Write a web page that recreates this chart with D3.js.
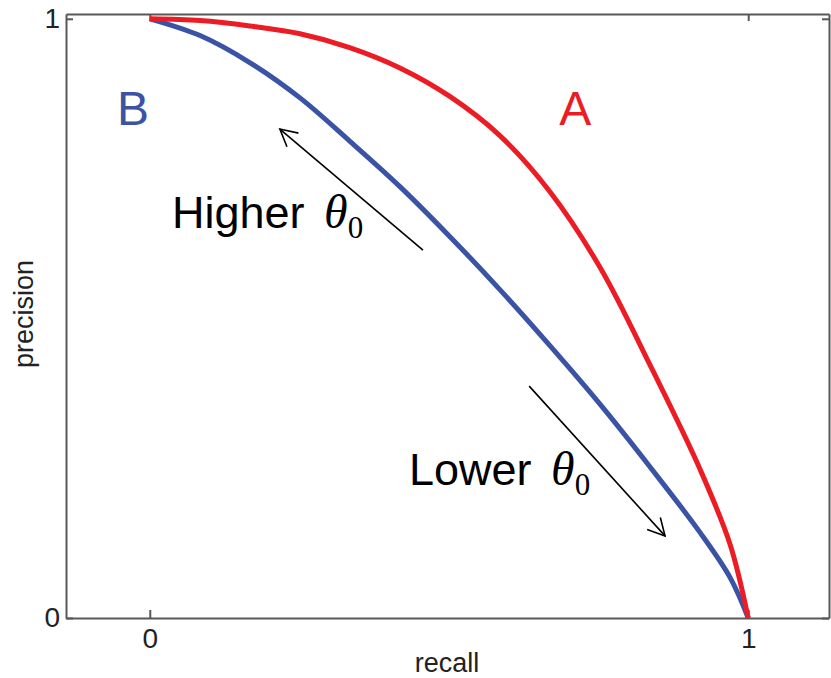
<!DOCTYPE html>
<html>
<head>
<meta charset="utf-8">
<script src="https://cdn.jsdelivr.net/npm/d3@7"></script>
<style>
  body { margin: 0; background: #fff; }
  svg { display: block; }
</style>
</head>
<body>
<div id="chart"></div>
<script>
// recall samples shared by both curves
var recall = [0, 0.084, 0.167, 0.251, 0.334, 0.418, 0.502, 0.585, 0.669, 0.753, 0.836, 0.92, 0.97, 1];
// curve A (red) and curve B (blue)
var precisionA = [1, 0.997, 0.988, 0.975, 0.952, 0.918, 0.87, 0.805, 0.711, 0.584, 0.422, 0.247, 0.122, 0];
var precisionB = [1, 0.972, 0.927, 0.868, 0.796, 0.72, 0.636, 0.548, 0.454, 0.356, 0.252, 0.142, 0.067, 0];

var xTicks = [0, 1];
var yTicks = [0, 1];

var width = 831;
var height = 678;

var x = d3.scaleLinear()
    .domain([-0.14, 1.135])
    .range([66, 829]);

var y = d3.scaleLinear()
    .domain([0, 1.008])
    .range([618, 14]);

var svg = d3.select("#chart")
    .append("svg")
    .attr("width", width)
    .attr("height", height);

var frameColor = "#585858";
var labelFont = "'Liberation Sans', Arial, Helvetica, sans-serif";
var mathFont = "'Liberation Serif', 'Times New Roman', serif";

function styleAxis(g) {
    g.select(".domain").attr("stroke", frameColor).attr("stroke-width", 2);
    g.selectAll(".tick line").attr("stroke", frameColor).attr("stroke-width", 2);
    g.selectAll(".tick text")
        .attr("fill", "#222")
        .style("font-family", labelFont)
        .style("font-size", "28px");
}

svg.append("g")
    .attr("transform", `translate(0, ${y(0)})`)
    .call(d3.axisBottom(x).tickValues(xTicks).tickFormat(d3.format("d"))
        .tickSizeInner(-8).tickSizeOuter(0).tickPadding(10))
    .call(styleAxis);

svg.append("g")
    .attr("transform", `translate(0, ${y.range()[1]})`)
    .call(d3.axisTop(x).tickValues(xTicks).tickFormat("")
        .tickSizeInner(-7).tickSizeOuter(0))
    .call(styleAxis);

svg.append("g")
    .attr("transform", `translate(${x.range()[0]}, 0)`)
    .call(d3.axisLeft(y).tickValues(yTicks).tickFormat(d3.format("d"))
        .tickSizeInner(-7).tickSizeOuter(0).tickPadding(6))
    .call(styleAxis);

svg.append("g")
    .attr("transform", `translate(${x.range()[1]}, 0)`)
    .call(d3.axisRight(y).tickValues(yTicks).tickFormat("")
        .tickSizeInner(-7).tickSizeOuter(0))
    .call(styleAxis);

// axis titles
svg.append("text")
    .attr("x", 447)
    .attr("y", 672)
    .attr("text-anchor", "middle")
    .attr("fill", "#222")
    .style("font-family", labelFont)
    .style("font-size", "27px")
    .text("recall");

svg.append("text")
    .attr("transform", "translate(33, 314) rotate(-90)")
    .attr("text-anchor", "middle")
    .attr("fill", "#222")
    .style("font-family", labelFont)
    .style("font-size", "27px")
    .text("precision");

var line = d3.line()
    .x(d => x(d[0]))
    .y(d => y(d[1]))
    .curve(d3.curveCatmullRom.alpha(0.5));

var blue = "#3a53a4";
var red = "#ec1c24";

svg.append("path")
    .datum(d3.zip(recall, precisionB))
    .attr("fill", "none")
    .attr("stroke", blue)
    .attr("stroke-width", 5)
    .attr("d", line);

svg.append("path")
    .datum(d3.zip(recall, precisionA))
    .attr("fill", "none")
    .attr("stroke", red)
    .attr("stroke-width", 5)
    .attr("d", line);

// curve names
svg.append("text")
    .attr("x", x(-0.028))
    .attr("y", y(0.823))
    .attr("text-anchor", "middle")
    .attr("fill", blue)
    .style("font-family", labelFont)
    .style("font-size", "48px")
    .text("B");

svg.append("text")
    .attr("x", x(0.711))
    .attr("y", y(0.823))
    .attr("text-anchor", "middle")
    .attr("fill", red)
    .style("font-family", labelFont)
    .style("font-size", "48px")
    .text("A");

// arrows
svg.append("defs").append("marker")
    .attr("id", "head")
    .attr("markerUnits", "userSpaceOnUse")
    .attr("viewBox", "-20 -12 24 24")
    .attr("refX", 0)
    .attr("refY", 0)
    .attr("markerWidth", 24)
    .attr("markerHeight", 24)
    .attr("orient", "auto")
    .append("path")
    .attr("d", "M-16.8,-8.9L0,0L-16.8,8.9")
    .attr("fill", "none")
    .attr("stroke", "#000")
    .attr("stroke-width", 1.6);

var arrows = [
    [[0.4565, 0.614], [0.2174, 0.816]],
    [[0.634, 0.387], [0.861, 0.137]]
];

svg.selectAll(".arrow")
    .data(arrows)
    .enter().append("line")
    .attr("class", "arrow")
    .attr("x1", d => x(d[0][0]))
    .attr("y1", d => y(d[0][1]))
    .attr("x2", d => x(d[1][0]))
    .attr("y2", d => y(d[1][1]))
    .attr("stroke", "#000")
    .attr("stroke-width", 1.6)
    .attr("marker-end", "url(#head)");

function thetaLabel(px, py, word) {
    var t = svg.append("text")
        .attr("x", px)
        .attr("y", py)
        .attr("fill", "#000")
        .style("font-family", labelFont)
        .style("font-size", "45px");
    t.append("tspan").text(word + " ");
    t.append("tspan")
        .attr("dx", 7)
        .style("font-family", mathFont)
        .style("font-style", "italic")
        .style("font-size", "48px")
        .text("θ");
    t.append("tspan")
        .attr("dy", 10)
        .style("font-family", mathFont)
        .style("font-size", "31px")
        .text("0");
}

thetaLabel(172, 228, "Higher");
thetaLabel(409, 485, "Lower");
</script>
</body>
</html>
